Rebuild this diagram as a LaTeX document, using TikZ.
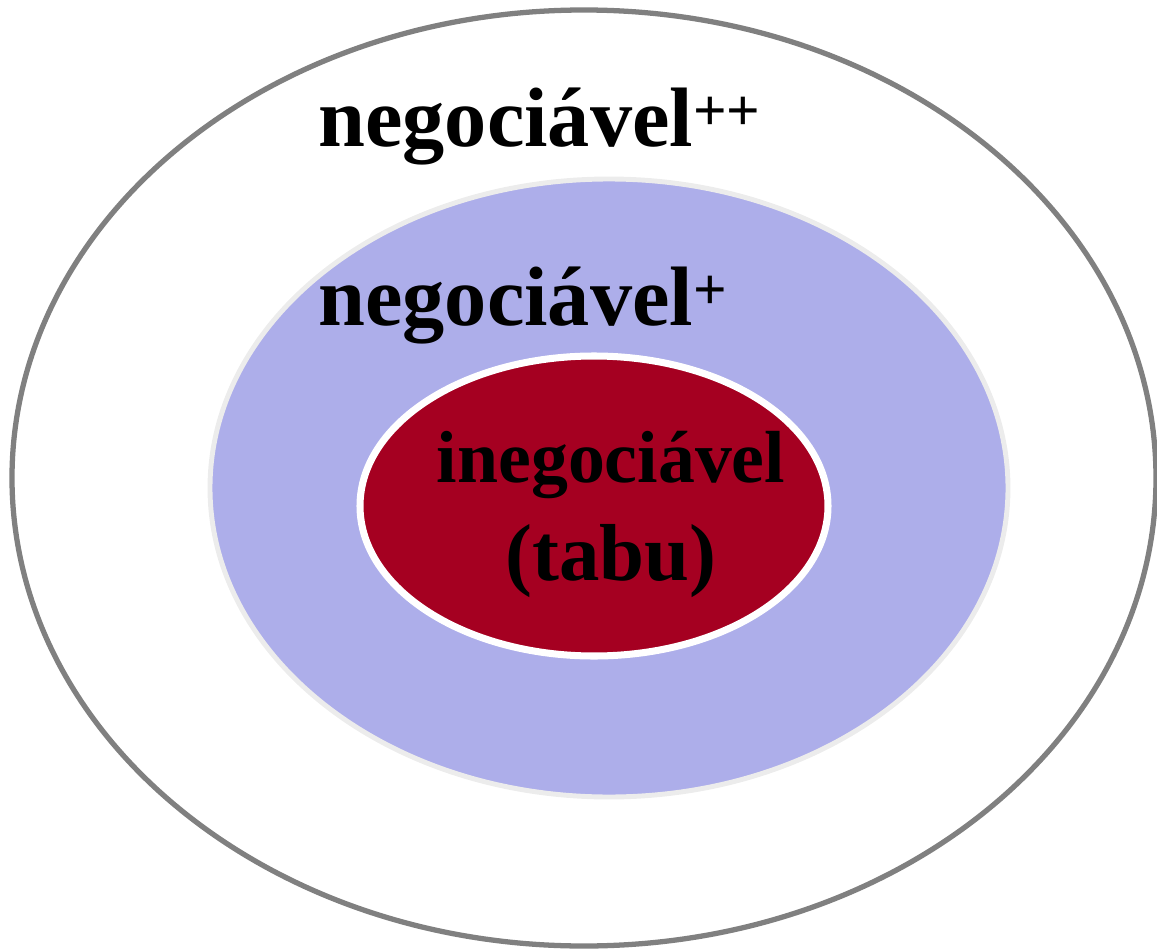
\documentclass[tikz,border=0pt]{standalone}
\usepackage{fontspec}
\setmainfont{Liberation Serif}
\usepackage{tikz}
\usetikzlibrary{positioning}
\usepackage{xcolor}
\definecolor{ringgray}{RGB}{128,128,128}
\definecolor{lavender}{RGB}{173,174,234}
\definecolor{rimgray}{RGB}{236,236,236}
\definecolor{tabured}{RGB}{165,0,33}

\begin{document}
\begin{tikzpicture}[x=0.02cm, y=-0.02cm,
  label/.style={font=\bfseries\fontsize{48}{56}\selectfont, inner sep=0pt}]
  \useasboundingbox (0, 0) rectangle (1157, 950);

  % Outer ring
  \draw[ringgray, line width=3pt] (584, 478) ellipse [x radius=572, y radius=468];

  % Middle ring
  \draw[rimgray, fill=lavender, line width=2.8pt] (609, 488) ellipse [x radius=399, y radius=309];

  % Inner core
  \draw[white, fill=tabured, line width=4pt] (594, 506) ellipse [x radius=234, y radius=150];

  % Labels
  \node[label, anchor=base west] (outer) at (318, 146) {negociável\textsuperscript{++}};
  \node[label, anchor=base west] (middle) at (318, 325) {negociável\textsuperscript{+}};
  \node[label, anchor=base, font=\bfseries\fontsize{42}{50}\selectfont] (core) at (611, 482) {inegociável};
  \node[label, anchor=base, font=\bfseries\fontsize{46}{54}\selectfont] (tabu) at (611, 580) {(tabu)};
\end{tikzpicture}
\end{document}
